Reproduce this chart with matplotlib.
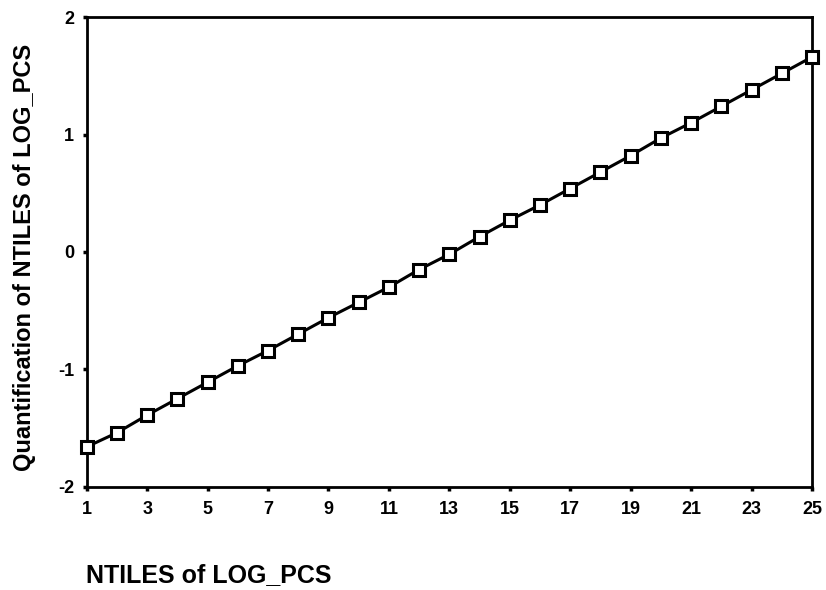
import numpy as np
import matplotlib.pyplot as plt

plt.rcParams['font.family'] = ['Liberation Sans', 'DejaVu Sans']

# NTILES vs quantification
ntiles = np.arange(1, 26)
quant = [-1.66, -1.54, -1.39, -1.25, -1.11, -0.97, -0.84, -0.70, -0.56, -0.43,
         -0.30, -0.15, -0.02, 0.13, 0.27, 0.40, 0.54, 0.68, 0.82, 0.97,
         1.10, 1.24, 1.38, 1.52, 1.66]
xticks = list(range(1, 26, 2))
yticks = [-2, -1, 0, 1, 2]

fig = plt.figure(figsize=(8.26, 5.90), dpi=100)
ax = fig.add_axes([0.105, 0.175, 0.878, 0.796])
ax.plot(ntiles, quant, color='black', lw=2.2, marker='s', ms=9,
        mfc='white', mec='black', mew=2.2, clip_on=False, zorder=3)
ax.set_xlim(1, 25)
ax.set_ylim(-2, 2)
ax.set_xticks(xticks)
ax.set_yticks(yticks)
ax.set_xticklabels([str(t) for t in xticks], fontsize=13, fontweight='bold')
ax.set_yticklabels([str(t) for t in yticks], fontsize=13, fontweight='bold')
ax.tick_params(axis='x', direction='out', length=3, width=2.5, pad=7)
ax.tick_params(axis='y', direction='out', length=3, width=2.5, pad=6)
for s in ax.spines.values():
    s.set_linewidth(2)
fig.text(25 / 826, 1 - 257 / 590, 'Quantification of NTILES of LOG_PCS', fontsize=17,
         fontweight='bold', rotation=90, ha='center', va='center')
fig.text(86 / 826, 8 / 590, 'NTILES of LOG_PCS', fontsize=18, fontweight='bold', va='baseline')
fig.savefig('out.png', dpi=100)
